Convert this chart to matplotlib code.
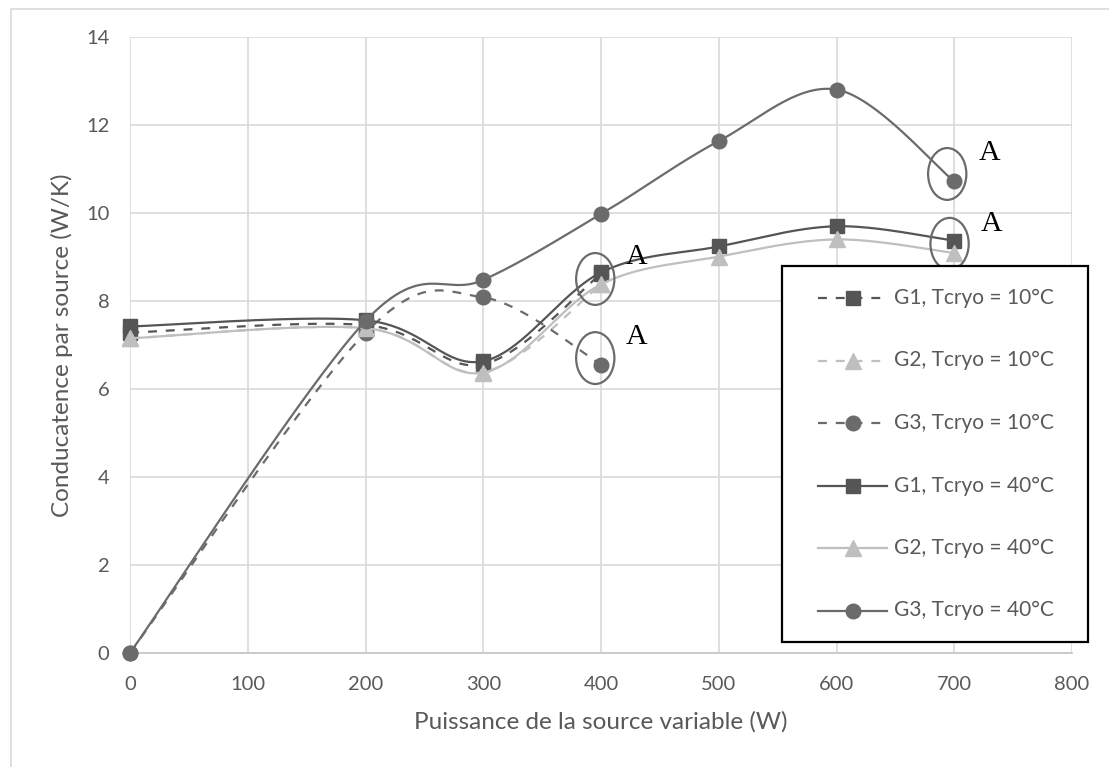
import numpy as np
import matplotlib
matplotlib.use("Agg")
import matplotlib.pyplot as plt
from matplotlib.patches import Ellipse, Rectangle
from matplotlib.lines import Line2D

# ---------------- data ----------------
x_10 = [0, 200, 300, 400]
x_40 = [0, 200, 300, 400, 500, 600, 700]

g1_10 = [7.28, 7.45, 6.56, 8.62]
g2_10 = [7.15, 7.38, 6.38, 8.38]
g3_10 = [0.0, 7.28, 8.08, 6.55]

g1_40 = [7.42, 7.56, 6.63, 8.65, 9.24, 9.70, 9.37]
g2_40 = [7.15, 7.38, 6.37, 8.38, 9.01, 9.40, 9.09]
g3_40 = [0.0, 7.55, 8.48, 9.98, 11.64, 12.81, 10.72]

labels = ["G1, Tcryo = 10°C", "G2, Tcryo = 10°C", "G3, Tcryo = 10°C",
          "G1, Tcryo = 40°C", "G2, Tcryo = 40°C", "G3, Tcryo = 40°C"]
x_ticks = [0, 100, 200, 300, 400, 500, 600, 700, 800]
y_ticks = [0, 2, 4, 6, 8, 10, 12, 14]

# annotation ellipses (centre x, centre y) and "A" label positions
ell_centres = [(395, 8.50), (395, 6.70), (694, 10.89), (696, 9.30)]
a_positions = [(430, 9.0), (430, 7.18), (730, 11.37), (732, 9.75)]

# ---------------- style ----------------
C_G1 = "#555555"
C_G2 = "#bfbfbf"
C_G3 = "#6b6b6b"
TXT = "#595959"
GRID = "#d9d9d9"
FONT = "Lato"

W, H = 1109, 767
AX_L, AX_R, AX_T, AX_B = 130.3, 1072.0, 37.3, 652.5
fig = plt.figure(figsize=(W / 100, H / 100), dpi=100)
fig.patch.set_facecolor("white")

# outer chart border
fig.patches.append(Rectangle((11 / W, -0.1), 1.2, 1 - 9 / H + 0.1, transform=fig.transFigure,
                             fill=False, edgecolor=GRID, lw=1.2))

ax = fig.add_axes([AX_L / W, 1 - AX_B / H, (AX_R - AX_L) / W, (AX_B - AX_T) / H])
ax.set_xlim(0, 800)
ax.set_ylim(0, 14)
ax.set_xticks(x_ticks)
ax.set_yticks(y_ticks)
ax.grid(True, color=GRID, lw=1.2)
ax.set_axisbelow(True)
for s in ["top", "right", "left"]:
    ax.spines[s].set_visible(False)
ax.spines["bottom"].set_color("#c8c8c8")
ax.spines["bottom"].set_linewidth(1.3)
ax.tick_params(length=0, colors=TXT, labelsize=14.5, pad=15)
ax.tick_params(axis="x", pad=17)
for lab in ax.get_xticklabels() + ax.get_yticklabels():
    lab.set_fontfamily(FONT)


def excel_smooth(xs, ys, n=60):
    P = np.column_stack([xs, ys]).astype(float)
    out = [P[0]]
    t = np.linspace(0, 1, n)[1:, None]
    for i in range(len(P) - 1):
        p0 = P[i - 1] if i > 0 else P[i]
        p1, p2 = P[i], P[i + 1]
        p3 = P[i + 2] if i + 2 < len(P) else P[i + 1]
        c1 = p1 + (p2 - p0) / 6.0
        c2 = p2 - (p3 - p1) / 6.0
        seg = (1 - t) ** 3 * p1 + 3 * (1 - t) ** 2 * t * c1 + 3 * (1 - t) * t ** 2 * c2 + t ** 3 * p2
        out.extend(seg)
    return np.array(out)


LW = 1.6
DASH = (4, 4)
series = [
    (x_10, g1_10, C_G1, "s", True),
    (x_10, g2_10, C_G2, "^", True),
    (x_10, g3_10, C_G3, "o", True),
    (x_40, g1_40, C_G1, "s", False),
    (x_40, g2_40, C_G2, "^", False),
    (x_40, g3_40, C_G3, "o", False),
]
MS = {"s": 10.5, "^": 11, "o": 10.5}
for k, (xs, ys, c, m, dashed) in enumerate(series):
    sm = excel_smooth(xs, ys)
    ln, = ax.plot(sm[:, 0], sm[:, 1], color=c, lw=LW, zorder=3 + k, solid_capstyle="round")
    if dashed:
        ln.set_dashes(DASH)
    ax.plot(xs, ys, ls="none", marker=m, ms=MS[m], color=c, mec=c, zorder=3 + k, clip_on=False)

# annotations
for (cx, cy) in ell_centres:
    ax.add_patch(Ellipse((cx, cy), 32.5, 1.18, fill=False, edgecolor="#6b6b6b", lw=1.6, zorder=12))
for (tx, ty) in a_positions:
    ax.text(tx, ty, "A", fontsize=21.5, family="Liberation Serif", color="black",
            ha="center", va="center", zorder=13)

ax.set_xlabel("Puissance de la source variable (W)", fontsize=17.5, color=TXT, family=FONT, va="center")
ax.set_ylabel("Conducatence par source (W/K)", fontsize=17.5, color=TXT, family=FONT, va="center")
ax.xaxis.set_label_coords(0.5, (AX_B - 722) / (AX_B - AX_T))
ax.yaxis.set_label_coords((62 - AX_L) / (AX_R - AX_L), 0.5)

# ---------------- legend (drawn in pixel coordinates on an overlay) ----------------
ov = fig.add_axes([0, 0, 1, 1], zorder=20)
ov.set_xlim(0, W)
ov.set_ylim(H, 0)
ov.axis("off")
ov.patch.set_alpha(0)
ov.add_patch(Rectangle((782, 266), 306, 376, facecolor="white", edgecolor="black", lw=1.6))
styles = [(C_G1, "s", True), (C_G2, "^", True), (C_G3, "o", True),
          (C_G1, "s", False), (C_G2, "^", False), (C_G3, "o", False)]
for i, (lab, (c, m, dashed)) in enumerate(zip(labels, styles)):
    yy = 298 + i * 62.5
    if dashed:
        ln = Line2D([818, 882], [yy, yy], color=c, lw=LW)
        ln.set_dashes(DASH)
    else:
        ln = Line2D([818, 887], [yy, yy], color=c, lw=LW)
    ov.add_line(ln)
    ov.add_line(Line2D([852.5], [yy], ls="none", marker=m, ms=MS[m], color=c))
    ov.text(894, yy, lab, fontsize=15, family=FONT, color=TXT, ha="left", va="center")

fig.savefig("out.png", dpi=100, facecolor="white")
